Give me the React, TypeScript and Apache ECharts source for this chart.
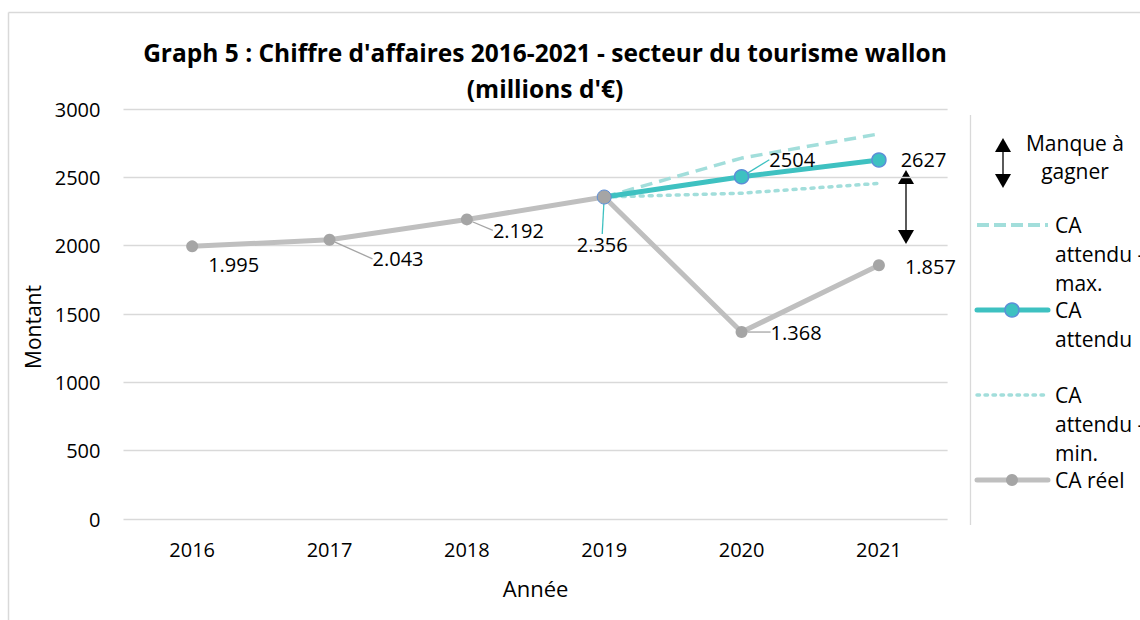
import React, { useEffect, useRef } from "react";
import * as echarts from "echarts";

const years = ["2016", "2017", "2018", "2019", "2020", "2021"];
const caReel = [1995, 2043, 2192, 2356, 1368, 1857];
const caAttendu = [null, null, null, 2356, 2504, 2627];
const caAttenduMax = [null, null, null, 2356, 2641, 2818];
const caAttenduMin = [null, null, null, 2356, 2384, 2456];
const yTicks = { min: 0, max: 3000, interval: 500 };

const FONT = "'Open Sans', Lato, sans-serif";
const FS = 20;
const LEG_FS = 21;
const TEAL = "#3EC1C1";
const LIGHT_TEAL = "#A2DEDB";
const GRAY_LINE = "#BFBFBF";
const GRAY_DOT = "#A5A5A5";

// label displacement (dx, dy) relative to default 'right' label, and whether a leader line shows
const reelLabelMove = [
  [5, 18],
  [32, 19],
  [15, 11],
  [0, 0],
  [18, 0],
  [15, 1],
];
const reelLeader = [false, true, true, false, true, false];
const attenduLabelMove = [
  [0, 0],
  [0, 0],
  [0, 0],
  [-40, 47],
  [15, -17],
  [9, 0],
];
const attenduLeader = [false, false, false, true, true, false];

const fmtThousands = (v: number) => {
  const t = Math.floor(v / 1000);
  const r = String(v % 1000).padStart(3, "0");
  return t > 0 ? `${t}.${r}` : String(v);
};

export default function App() {
  const ref = useRef<HTMLDivElement>(null);
  useEffect(() => {
    if (!ref.current) return;
    const chart = echarts.init(ref.current, null, { renderer: "svg" });
    const legendX = 977;
    const textX = 1055;
    const lh = 29;
    const font = `${LEG_FS}px ${FONT}`;
    const legendText = (lines: string[], y0: number) =>
      lines.map((t, i) => ({
        type: "text",
        x: textX,
        y: y0 + i * lh,
        style: { text: t, font, fill: "#000", textVerticalAlign: "middle", textAlign: "left" },
      }));
    const labelBase = {
      show: true,
      position: "right",
      distance: 5,
      fontSize: FS,
      color: "#000",
      fontFamily: FONT,
    };
    chart.setOption({
      animation: false,
      backgroundColor: "#fff",
      textStyle: { fontFamily: FONT },
      title: {
        text: "Graph 5 : Chiffre d'affaires 2016-2021 - secteur du tourisme wallon\n(millions d'€)",
        left: 545,
        top: 34,
        padding: 0,
        textAlign: "center",
        textStyle: { fontSize: 24.5, fontWeight: "bold", color: "#000", lineHeight: 36, fontFamily: FONT },
      },
      grid: { left: 123.5, right: 192.4, top: 109, bottom: 101 },
      xAxis: {
        type: "category",
        data: years,
        boundaryGap: true,
        name: "Année",
        nameLocation: "middle",
        nameGap: 58,
        nameTextStyle: { fontSize: 22, color: "#000", fontFamily: FONT },
        axisLine: { show: false },
        axisTick: { show: false },
        axisLabel: { fontSize: FS, color: "#000", margin: 20, fontFamily: FONT },
      },
      yAxis: {
        type: "value",
        min: yTicks.min,
        max: yTicks.max,
        interval: yTicks.interval,
        name: "Montant",
        nameLocation: "middle",
        nameGap: 72,
        nameTextStyle: { fontSize: 21, color: "#000", fontFamily: FONT, padding: [0, 26, 0, 0] },
        axisLine: { show: false },
        axisTick: { show: false },
        axisLabel: { fontSize: FS, color: "#000", margin: 23, fontFamily: FONT, formatter: (v: number) => String(v) },
        splitLine: { lineStyle: { color: "#D9D9D9", width: 1.3 } },
      },
      series: [
        {
          name: "CA réel",
          type: "line",
          data: caReel.map((v, i) => ({ value: v, labelLine: { show: reelLeader[i] } })),
          symbol: "circle",
          symbolSize: 12,
          lineStyle: { color: GRAY_LINE, width: 5 },
          itemStyle: { color: GRAY_DOT },
          z: 2,
          label: {
            ...labelBase,
            formatter: (p: any) => (p.dataIndex === 3 ? "" : fmtThousands(p.value)),
          },
          labelLine: { show: true, lineStyle: { color: GRAY_DOT, width: 1.3 } },
          labelLayout: (p: any) => ({
            dx: reelLabelMove[p.dataIndex][0],
            dy: reelLabelMove[p.dataIndex][1],
          }),
        },
        {
          name: "CA attendu - min.",
          type: "line",
          data: caAttenduMin,
          symbol: "none",
          lineStyle: { color: LIGHT_TEAL, width: 3.5, type: [3, 6], cap: "round" },
          itemStyle: { color: LIGHT_TEAL },
          z: 3,
        },
        {
          name: "CA attendu - max.",
          type: "line",
          data: caAttenduMax,
          symbol: "none",
          lineStyle: { color: LIGHT_TEAL, width: 3.5, type: [12, 7] },
          itemStyle: { color: LIGHT_TEAL },
          z: 3,
        },
        {
          name: "CA attendu",
          type: "line",
          data: caAttendu.map((v, i) =>
            i === 3
              ? {
                  value: v,
                  itemStyle: { color: GRAY_DOT, borderColor: "#5B8ED8", borderWidth: 1 },
                  labelLine: { show: attenduLeader[i] },
                }
              : { value: v, labelLine: { show: attenduLeader[i] } }
          ),
          symbol: "circle",
          symbolSize: 14,
          lineStyle: { color: TEAL, width: 5 },
          itemStyle: { color: TEAL, borderColor: "#5B8ED8", borderWidth: 1.5 },
          z: 4,
          label: {
            ...labelBase,
            formatter: (p: any) => (p.dataIndex === 3 ? fmtThousands(p.value) : String(p.value)),
          },
          labelLine: { show: true, lineStyle: { color: TEAL, width: 1.3 } },
          labelLayout: (p: any) => ({
            dx: attenduLabelMove[p.dataIndex][0],
            dy: attenduLabelMove[p.dataIndex][1],
          }),
        },
      ],
      graphic: [
        // chart border (left + top)
        { type: "line", shape: { x1: 8.5, y1: 12.5, x2: 1140, y2: 12.5 }, style: { stroke: "#D9D9D9", lineWidth: 1.5 } },
        { type: "line", shape: { x1: 8.5, y1: 12.5, x2: 8.5, y2: 620 }, style: { stroke: "#D9D9D9", lineWidth: 1.5 } },
        // legend separator
        { type: "line", shape: { x1: 970.5, y1: 115, x2: 970.5, y2: 525 }, style: { stroke: "#D9D9D9", lineWidth: 1.3 } },
        // "Manque à gagner" gap arrow in plot
        { type: "line", shape: { x1: 906, y1: 180, x2: 906, y2: 234 }, style: { stroke: "#000", lineWidth: 1.3 } },
        { type: "polygon", shape: { points: [[906, 170], [898, 184], [914, 184]] }, style: { fill: "#000" } },
        { type: "polygon", shape: { points: [[906, 244], [898, 230], [914, 230]] }, style: { fill: "#000" } },
        // legend arrow icon
        { type: "line", shape: { x1: 1003, y1: 148, x2: 1003, y2: 178 }, style: { stroke: "#000", lineWidth: 1.3 } },
        { type: "polygon", shape: { points: [[1003, 138], [995, 152], [1011, 152]] }, style: { fill: "#000" } },
        { type: "polygon", shape: { points: [[1003, 188], [995, 174], [1011, 174]] }, style: { fill: "#000" } },
        { type: "text", x: 1075, y: 143, style: { text: "Manque à", font, fill: "#000", textAlign: "center", textVerticalAlign: "middle" } },
        { type: "text", x: 1075, y: 171, style: { text: "gagner", font, fill: "#000", textAlign: "center", textVerticalAlign: "middle" } },
        // legend: max
        { type: "line", shape: { x1: legendX, y1: 225, x2: 1048, y2: 225 }, style: { stroke: LIGHT_TEAL, lineWidth: 4, lineDash: [12, 5] } },
        ...legendText(["CA", "attendu -", "max."], 225),
        // legend: attendu
        { type: "line", shape: { x1: legendX, y1: 310, x2: 1048, y2: 310 }, style: { stroke: TEAL, lineWidth: 5, lineCap: "round" } },
        { type: "circle", shape: { cx: 1012, cy: 310, r: 7 }, style: { fill: TEAL, stroke: "#5B8ED8", lineWidth: 1.5 } },
        ...legendText(["CA", "attendu"], 310),
        // legend: min
        { type: "line", shape: { x1: legendX, y1: 395, x2: 1044, y2: 395 }, style: { stroke: LIGHT_TEAL, lineWidth: 3.5, lineDash: [2.5, 5.5], lineCap: "round" } },
        ...legendText(["CA", "attendu -", "min."], 395),
        // legend: réel
        { type: "line", shape: { x1: legendX, y1: 480, x2: 1048, y2: 480 }, style: { stroke: GRAY_LINE, lineWidth: 5, lineCap: "round" } },
        { type: "circle", shape: { cx: 1012, cy: 480, r: 6 }, style: { fill: GRAY_DOT } },
        ...legendText(["CA réel"], 480),
      ],
    });
    return () => chart.dispose();
  }, []);
  return (
    <div
      ref={ref}
      style={{ position: "absolute", left: 0, top: 0, width: 1140, height: 620, background: "#fff" }}
    />
  );
}
